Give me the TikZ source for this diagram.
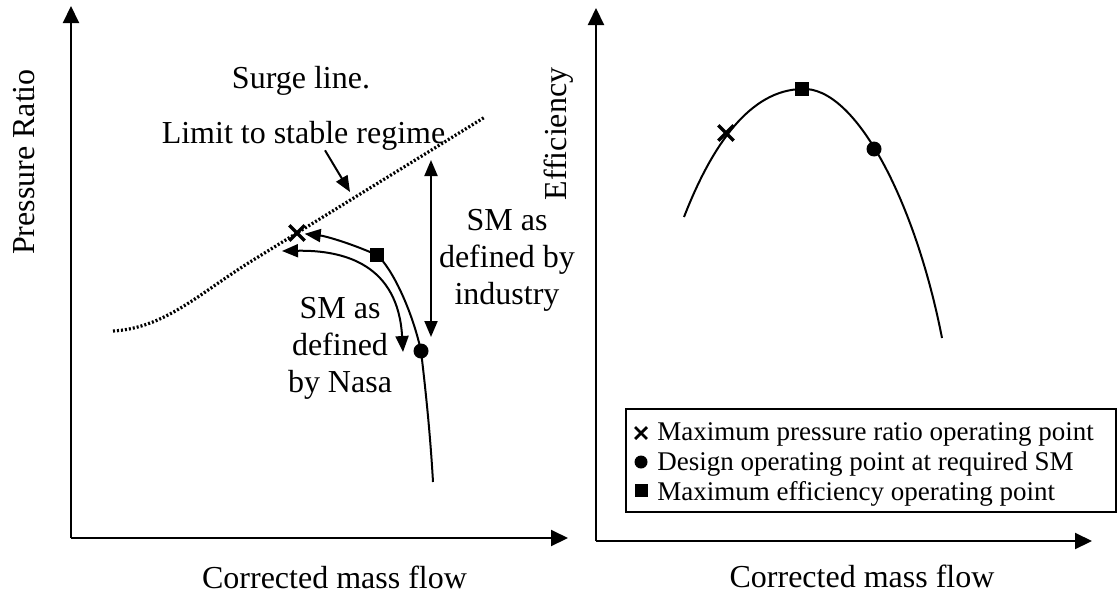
\documentclass[tikz,border=0pt]{standalone}
\usepackage{fontspec}
\setmainfont{Liberation Serif}
\usetikzlibrary{arrows.meta,shapes.misc}
\tikzset{
  axis/.style={line width=1pt, -{Triangle[length=8.5pt,width=8pt]}},
  curve/.style={line width=1pt},
  tip/.style={-{Triangle[length=8pt,width=6.5pt]}},
  tips/.style={{Triangle[length=8pt,width=6.5pt]}-{Triangle[length=8pt,width=6.5pt]}},
  surge/.style={line width=1.6pt, dash pattern=on 1pt off 1pt},
  lbl/.style={font=\fontsize{16}{18.5}\selectfont, inner sep=0pt, align=center},
  leg/.style={font=\fontsize{13.5}{15}\selectfont, inner sep=0pt, anchor=base west},
  sqmark/.style={fill, minimum size=7pt, inner sep=0pt},
  dotmark/.style={circle, fill, minimum size=7.5pt, inner sep=0pt},
  xmark/.style={cross out, draw, line width=1.7pt, minimum size=6pt, inner sep=0pt}
}
\begin{document}
\begin{tikzpicture}[x=0.5pt, y=-0.5pt]
    \useasboundingbox (0,0) rectangle (1117,594);

    % --- 1. Pressure ratio map ---
    \coordinate (O1) at (71,538);
    \draw[axis] (O1) -- (71,6);
    \draw[axis] (O1) -- (568,538);
    \node[lbl, rotate=90, anchor=base] (yl1) at (34,162) {Pressure Ratio};
    \node[lbl, anchor=base] (xl1) at (334.5,588) {Corrected mass flow};

    % Surge line
    \draw[surge] (113,331) .. controls (165,328) and (200,293) .. (250,262) -- (485,117);
    \node[lbl, anchor=base] (surge) at (301,88) {Surge line.};
    \node[lbl, anchor=base] (lim) at (303.5,143) {Limit to stable regime};
    \coordinate (lim tip) at (350,192);
    \draw[curve, tip] ([xshift=10.75pt]lim.south) -- (lim tip);

    % Speed line and operating points
    \node[xmark] (pr) at (297,233) {};
    \node[sqmark] (me) at (377,255) {};
    \node[dotmark] (dp) at (421,351) {};
    \coordinate (op end) at (433,482);
    \draw[curve, tip] (op end) .. controls (430,430) and (425,385) .. (dp.center)
        .. controls (412,310) and (392,268) .. (me.center)
        .. controls (350,243) and (325,236) .. (pr);

    % SM as defined by Nasa
    \coordinate (na) at (282,251);
    \coordinate (nb) at (403,352);
    \draw[curve, tips] (na) .. controls (345,250) and (398,265) .. (nb);
    \node[lbl] (nasa) at (340,348) {SM as\\defined\\by Nasa};

    % SM as defined by industry
    \coordinate (ia) at (431,160);
    \coordinate (ib) at (431,337);
    \draw[curve, tips] (ia) -- (ib);
    \node[lbl] (ind) at (507,260) {SM as\\defined by\\industry};

    % --- 2. Efficiency ---
    \coordinate (O2) at (596,541);
    \draw[axis] (O2) -- (596,8);
    \draw[axis] (O2) -- (1092,541);
    \node[lbl, rotate=90, anchor=base] (yl2) at (566,134) {Efficiency};
    \node[lbl, anchor=base] (xl2) at (862,587) {Corrected mass flow};

    \node[xmark] (epr) at (726,133) {};
    \node[sqmark] (eme) at (802,89) {};
    \node[dotmark] (edp) at (874,149) {};
    \draw[curve] (684,217) .. controls (712,145) and (750,90) .. (eme.center)
        .. controls (855,86) and (915,200) .. (942,338);

    % Legend
    \draw[curve] (626,409) rectangle (1116,512);
    \node[xmark, minimum size=4.5pt, line width=1.4pt] (lx) at (641,433) {};
    \node[leg] (l1) at (657,440) {Maximum pressure ratio operating point};
    \node[dotmark, minimum size=6.5pt] (lc) at (641,462) {};
    \node[leg] (l2) at (657,470) {Design operating point at required SM};
    \node[sqmark, minimum size=6.5pt] (ls) at (641,490) {};
    \node[leg] (l3) at (657,500) {Maximum efficiency operating point};
\end{tikzpicture}
\end{document}
